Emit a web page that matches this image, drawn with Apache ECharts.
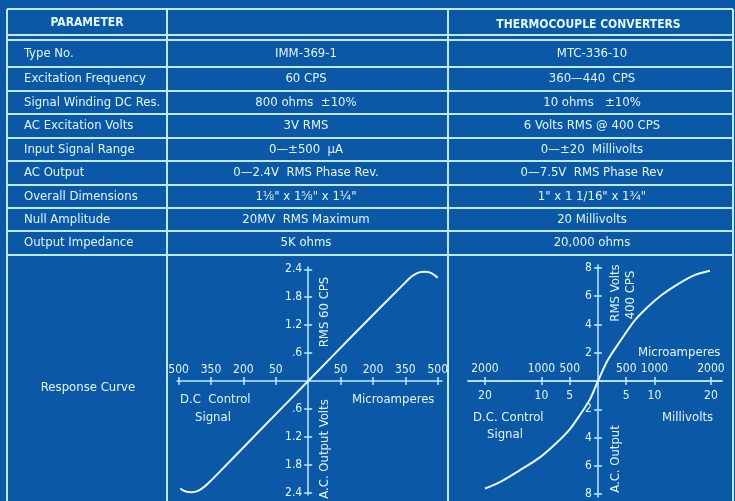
<!DOCTYPE html>
<html>
<head>
<meta charset="utf-8">
<script src="https://cdn.jsdelivr.net/npm/echarts@6/dist/echarts.min.js"></script>
<style>
html,body{margin:0;padding:0;background:#0b58a6;}
#main{width:735px;height:501px;}
</style>
</head>
<body>
<div id="main"></div>
<script>
// table contents
var headers = ['PARAMETER', '', 'THERMOCOUPLE CONVERTERS'];
var paramNames = ['Type No.', 'Excitation Frequency', 'Signal Winding DC Res.', 'AC Excitation Volts', 'Input Signal Range', 'AC Output', 'Overall Dimensions', 'Null Amplitude', 'Output Impedance'];
var unitA = ['IMM-369-1', '60 CPS', '800 ohms  ±10%', '3V RMS', '0—±500  μA', '0—2.4V  RMS Phase Rev.', '1⅛" x 1⅝" x 1¼"', '20MV  RMS Maximum', '5K ohms'];
var unitB = ['MTC-336-10', '360—440  CPS', '10 ohms   ±10%', '6 Volts RMS @ 400 CPS', '0—±20  Millivolts', '0—7.5V  RMS Phase Rev', '1" x 1 1/16" x 1¾"', '20 Millivolts', '20,000 ohms'];
var curveRowName = 'Response Curve';

// left response curve (x = tick position, y = volts)
var leftXTicks = [-4, -3, -2, -1, 1, 2, 3, 4];
var leftXLabels = ['500', '350', '200', '50', '50', '200', '350', '500'];
var leftYTicks = [-2.4, -1.8, -1.2, -0.6, 0.6, 1.2, 1.8, 2.4];
var leftYLabels = ['2.4', '1.8', '1.2', '.6', '.6', '1.2', '1.8', '2.4'];
var leftCurveX = [-3.95, -3.8, -3.6, -3.4, -3.2, -3.0, -1.5, 0, 1.5, 3.0, 3.2, 3.4, 3.6, 3.8, 4.0];
var leftCurveY = [-2.31, -2.37, -2.39, -2.36, -2.27, -2.14, -1.07, 0, 1.07, 2.12, 2.25, 2.33, 2.35, 2.32, 2.22];

// right response curve (x = microamperes, y = volts)
var rightXTicks = [-2000, -1000, -500, 500, 1000, 2000];
var rightUaLabels = ['2000', '1000', '500', '500', '1000', '2000'];
var rightMvLabels = ['20', '10', '5', '5', '10', '20'];
var rightYTicks = [-8, -6, -4, -2, 2, 4, 6, 8];
var rightYLabels = ['8', '6', '4', '2', '2', '4', '6', '8'];
var rightCurveX = [-2000, -1735, -1380, -1027, -726, -496, -319, -142, 0, 177, 425, 655, 885, 1133, 1416, 1717, 1982];
var rightCurveY = [-7.6, -7.15, -6.3, -5.4, -4.35, -3.4, -2.4, -1.3, 0, 1.5, 3.0, 4.3, 5.25, 6.1, 6.85, 7.5, 7.8];

var BG = '#0b58a6';
var LINE = '#bfeafc';
var TXT = '#e2f6ff';
var FONT = '"Liberation Sans Narrow","DejaVu Sans Condensed","Arial Narrow",sans-serif';

// table layout
var colX = [7, 167, 448, 733];
var headTop = 9, headBottom = 35;
var rowY = [40, 67, 91, 114, 138, 161, 185, 208, 231, 255];
var tableBottom = 501;

// chart boxes
var gL = { left: 177, top: 267, width: 265, height: 228, xMin: -4.05, xMax: 4.13, yMin: -2.45, yMax: 2.45 };
var gR = { left: 468, top: 265, width: 254, height: 232, xMin: -2300, xMax: 2195, yMin: -8.2, yMax: 8.2 };

function pick(ticks, labels) {
    return function (v) {
        for (var i = 0; i < ticks.length; i++) {
            if (Math.abs(ticks[i] - v) < 1e-6) return labels[i];
        }
        return '';
    };
}
function pairs(xs, ys) {
    return xs.map(function (x, i) { return [x, ys[i]]; });
}
function hline(y, x1, x2) {
    return { type: 'line', silent: true, shape: { x1: x1, y1: y, x2: x2, y2: y }, style: { stroke: LINE, lineWidth: 2 } };
}
function vline(x, y1, y2) {
    return { type: 'line', silent: true, shape: { x1: x, y1: y1, x2: x, y2: y2 }, style: { stroke: LINE, lineWidth: 2 } };
}
function txt(s, x, y, align, size, rot, weight) {
    return {
        type: 'text', silent: true, x: x, y: y, rotation: rot || 0,
        style: { text: s, fill: TXT, font: (weight || 'normal') + ' ' + (size || 13) + 'px ' + FONT, align: align || 'left', verticalAlign: 'middle' }
    };
}

var graphics = [];
// frame
graphics.push(hline(headTop, colX[0], colX[3]));
graphics.push(hline(headBottom, colX[0], colX[3]));
rowY.forEach(function (y) { graphics.push(hline(y, colX[0], colX[3])); });
colX.forEach(function (x) { graphics.push(vline(x, headTop, tableBottom)); });
// header text
graphics.push(txt(headers[0], (colX[0] + colX[1]) / 2, 23, 'center', 12, 0, 'bold'));
graphics.push(txt(headers[2], (colX[2] + colX[3]) / 2 - 2, 25, 'center', 12, 0, 'bold'));
// rows
paramNames.forEach(function (name, i) {
    var cy = (rowY[i] + rowY[i + 1]) / 2;
    graphics.push(txt(name, 24, cy, 'left', 13));
    graphics.push(txt(unitA[i], 306, cy, 'center', 13));
    graphics.push(txt(unitB[i], 592, cy, 'center', 13));
});
graphics.push(txt(curveRowName, 88, 388, 'center', 13));
// left curve annotations
graphics.push(txt('RMS 60 CPS', 325, 312, 'center', 13, Math.PI / 2));
graphics.push(txt('A.C. Output Volts', 325, 449, 'center', 13, Math.PI / 2));
graphics.push(txt('D.C  Control', 180, 400, 'left', 13));
graphics.push(txt('Signal', 195, 418, 'left', 13));
graphics.push(txt('Microamperes', 352, 400, 'left', 13));
// right curve annotations
graphics.push(txt('RMS Volts', 616, 293, 'center', 13, Math.PI / 2));
graphics.push(txt('400 CPS', 631, 295, 'center', 13, Math.PI / 2));
graphics.push(txt('A.C. Output', 616, 459, 'center', 13, Math.PI / 2));
graphics.push(txt('D.C. Control', 473, 418, 'left', 13));
graphics.push(txt('Signal', 487, 435, 'left', 13));
graphics.push(txt('Microamperes', 638, 353, 'left', 13));
graphics.push(txt('Millivolts', 662, 418, 'left', 13));

var axLine = { color: LINE, width: 1.5 };
var lbl = { color: TXT, fontSize: 12, fontFamily: FONT };

// distance (px) from grid edge to the zero line, used to pull axes onto the origin
function zeroFromStart(min, max, size) { return size * (0 - min) / (max - min); }
function zeroFromEnd(min, max, size) { return size * (max - 0) / (max - min); }

// x axis sitting on y = 0; labels null -> tick-only copy (gives the crossed ticks)
function xAx(grid, g, pos, ticks, labels, margin) {
    var d = pos === 'top' ? zeroFromEnd(g.yMin, g.yMax, g.height) : zeroFromStart(g.yMin, g.yMax, g.height);
    return {
        gridIndex: grid, type: 'value', min: g.xMin, max: g.xMax, position: pos, offset: -d,
        axisLine: { show: !!labels, onZero: false, lineStyle: axLine },
        axisTick: { show: true, customValues: ticks, length: 4, lineStyle: axLine },
        axisLabel: Object.assign({ show: !!labels, customValues: ticks, formatter: labels ? pick(ticks, labels) : '', margin: margin }, lbl),
        splitLine: { show: false }
    };
}
// y axis sitting on x = 0
function yAx(grid, g, pos, ticks, labels) {
    var d = pos === 'left' ? zeroFromStart(g.xMin, g.xMax, g.width) : zeroFromEnd(g.xMin, g.xMax, g.width);
    return {
        gridIndex: grid, type: 'value', min: g.yMin, max: g.yMax, position: pos, offset: -d,
        axisLine: { show: !!labels, onZero: false, lineStyle: axLine },
        axisTick: { show: true, customValues: ticks, length: 4, lineStyle: axLine },
        axisLabel: Object.assign({ show: !!labels, customValues: ticks, formatter: labels ? pick(ticks, labels) : '', margin: 6 }, lbl),
        splitLine: { show: false }
    };
}

var chart = echarts.init(document.getElementById('main'));
var option = {
    backgroundColor: BG,
    animation: false,
    grid: [
        { left: gL.left, top: gL.top, width: gL.width, height: gL.height },
        { left: gR.left, top: gR.top, width: gR.width, height: gR.height }
    ],
    xAxis: [
        xAx(0, gL, 'top', leftXTicks, leftXLabels, 5),
        xAx(1, gR, 'bottom', rightXTicks, rightMvLabels, 9),
        xAx(1, gR, 'top', rightXTicks, rightUaLabels, 6),
        xAx(0, gL, 'bottom', leftXTicks, null, 0)
    ],
    yAxis: [
        yAx(0, gL, 'left', leftYTicks, leftYLabels),
        yAx(1, gR, 'left', rightYTicks, rightYLabels),
        yAx(0, gL, 'right', leftYTicks, null),
        yAx(1, gR, 'right', rightYTicks, null)
    ],
    series: [
        {
            type: 'line', xAxisIndex: 0, yAxisIndex: 0, data: pairs(leftCurveX, leftCurveY),
            showSymbol: false, smooth: 0.3,
            lineStyle: { color: '#e8f8ff', width: 2 }
        },
        {
            type: 'line', xAxisIndex: 1, yAxisIndex: 1, data: pairs(rightCurveX, rightCurveY),
            showSymbol: false, smooth: 0.3,
            lineStyle: { color: '#e8f8ff', width: 2 }
        }
    ],
    graphic: graphics
};
chart.setOption(option);
</script>
</body>
</html>
